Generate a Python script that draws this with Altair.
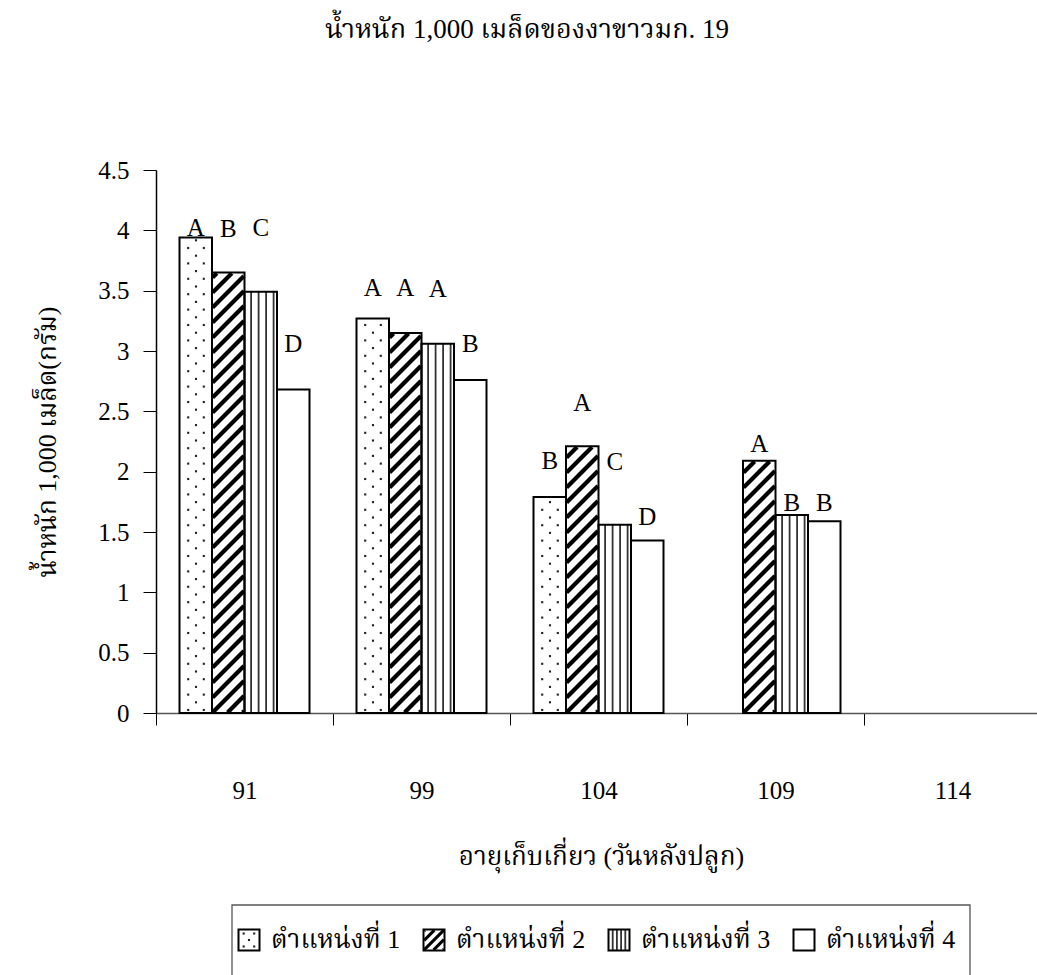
import altair as alt
import pandas as pd

# ---------------- data ----------------
days = ["91", "99", "104", "109", "114"]
positions = ["ตำแหน่งที่ 1", "ตำแหน่งที่ 2", "ตำแหน่งที่ 3", "ตำแหน่งที่ 4"]

weight_pos1 = [3.94, 3.27, 1.79, None, None]
weight_pos2 = [3.65, 3.15, 2.21, 2.09, None]
weight_pos3 = [3.49, 3.06, 1.56, 1.64, None]
weight_pos4 = [2.68, 2.76, 1.43, 1.59, None]

letters_pos1 = ["A", "A", "B", None, None]
letters_pos2 = ["B", "A", "A", "A", None]
letters_pos3 = ["C", "A", "C", "B", None]
letters_pos4 = ["D", "B", "D", "B", None]

TITLE = "น้ำหนัก 1,000 เมล็ดของงาขาวมก. 19"
Y_TITLE = "น้ำหนัก 1,000 เมล็ด(กรัม)"
X_TITLE = "อายุเก็บเกี่ยว (วันหลังปลูก)"

# ---------------- layout ----------------
W, H = 881, 543                 # plot area
PAD = {"left": 156, "top": 170, "right": 0, "bottom": 262}
Y_MAX = 4.5
PX_X = 177.0                    # pixels per category
PX_Y = H / Y_MAX                # pixels per gram
BAR_W = 32.5
FONT = "'Liberation Serif', 'Noto Serif Thai', 'Noto Sans Thai Looped', 'Noto Sans Thai', serif"

# pixel lift of each significance letter above its bar
LETTER_LIFT = [
    [10, 30, 36, None, None],
    [44, 45, 43, 17, None],
    [64, 55, 63, 12, None],
    [46, 36, 23, 18, None],
]

# legend key centres (screen px) and box
LEG_KEY_X = [249, 434, 619, 804]
LEG_Y = 940
LEG_KEY = 21
LEG_BOX = (232, 970, 905, 985)

series_values = [weight_pos1, weight_pos2, weight_pos3, weight_pos4]
series_letters = [letters_pos1, letters_pos2, letters_pos3, letters_pos4]


def gx(px):
    return px / PX_X


def gy(u):
    return u / PX_Y


rects, dots, hatch_thick, hatch_thin, vlines, letters = [], [], [], [], [], []


def add_dots(x0, u0, w, h, hp, vp, first_u, even_off, odd_off):
    r, u = 0, first_u
    while u < h - 1.5:
        x = even_off if r % 2 == 0 else odd_off
        while x < w - 1.5:
            if x > 1.5:
                dots.append({"x": gx(x0 + x), "y": gy(u0 + u)})
            x += hp
        u += vp
        r += 1


def add_hatch(store, x0, u0, w, h, period, inset=0.6):
    # 45-degree centre lines u = t + x, clipped to the rectangle
    k = int((-w) // period) - 1
    while True:
        t = k * period
        if t >= h:
            break
        xa = max(0.0, -t) + inset
        xb = min(w, h - t) - inset
        if xb > xa:
            store.append({"x": gx(x0 + xa), "x2": gx(x0 + xb),
                          "y": gy(u0 + t + xa), "y2": gy(u0 + t + xb)})
        k += 1


def add_vlines(x0, u0, h, offsets):
    for off in offsets:
        vlines.append({"x": gx(x0 + off), "y": gy(u0), "y2": gy(u0 + h)})


def add_key(j, x0, u0, w, h, legend):
    rects.append({"x": gx(x0), "x2": gx(x0 + w), "y": gy(u0), "y2": gy(u0 + h)})
    if j == 0:
        if legend:
            add_dots(x0, u0, w, h, 10.5, 6.5, 4, 5.2, 0)
        else:
            add_dots(x0, u0, w, h, 15.6, 7.7, 3, 8.7, 0.9)
    elif j == 1:
        if legend:
            add_hatch(hatch_thin, x0, u0, w, h, 9.5)
        else:
            add_hatch(hatch_thick, x0, u0, w, h, 15.0)
    elif j == 2:
        if legend:
            add_vlines(x0, u0, h, [4.2, 8.4, 12.6, 16.8])
        else:
            add_vlines(x0, u0, h, [6.6, 14.1, 21.6, 29.1])


# bars
for j, vals in enumerate(series_values):
    for i, v in enumerate(vals):
        if v is None:
            continue
        left = (i + 0.5) * PX_X - 2 * BAR_W + j * BAR_W
        add_key(j, left, 0.0, BAR_W, v * PX_Y, False)
        rects[-1]["y2"] = v
        txt = series_letters[j][i]
        if txt:
            letters.append({"x": gx(left + BAR_W / 2),
                            "y": v + LETTER_LIFT[j][i] / PX_Y, "t": txt})

# legend keys
legend_text = []
base_u = PAD["top"] + H
for j, cx in enumerate(LEG_KEY_X):
    x0 = cx - PAD["left"] - LEG_KEY / 2
    u0 = base_u - LEG_Y - LEG_KEY / 2
    add_key(j, x0, u0, LEG_KEY, LEG_KEY, True)
    legend_text.append({"x": gx(cx - PAD["left"] + 22), "y": gy(base_u - LEG_Y),
                        "t": positions[j]})

bx0, bx1, by0, by1 = LEG_BOX
legend_box = pd.DataFrame([{"x": gx(bx0 - PAD["left"]), "x2": gx(bx1 - PAD["left"]),
                            "y": gy(base_u - by0), "y2": gy(base_u - by1)}])

XS = alt.Scale(domain=[0, W / PX_X], nice=False, zero=False)
YS = alt.Scale(domain=[0, Y_MAX], nice=False, zero=False)

label_list = "[" + ",".join(f"'{d}'" for d in days) + "]"

x_axis = alt.Axis(
    values=[0, 1, 2, 3, 4], labelExpr=f"{label_list}[datum.value]",
    labelOffset=PX_X / 2, labelPadding=65, labelBaseline="middle",
    labelFontSize=25, labelFont=FONT, labelColor="black",
    labelOverlap=False, labelBound=False, labelFlush=False,
    tickSize=12, tickColor="black", tickWidth=1,
    domainColor="#555", domainWidth=1.5,
    title=X_TITLE, titleFont=FONT, titleFontSize=26, titleFontWeight="normal",
    titleColor="black", titleX=445, titleY=143, titleBaseline="middle", titleAlign="center",
    grid=False,
)
y_axis = alt.Axis(
    values=[0, 0.5, 1, 1.5, 2, 2.5, 3, 3.5, 4, 4.5], labelExpr="'' + datum.value",
    labelFontSize=25, labelFont=FONT, labelColor="black", labelPadding=14,
    labelOverlap=False, labelBound=False, labelFlush=False,
    tickSize=13, tickColor="black", tickWidth=1,
    domainColor="black", domainWidth=1.5,
    title=Y_TITLE, titleFont=FONT, titleFontSize=26, titleFontWeight="normal",
    titleColor="black", titleAngle=270, titleX=-109, titleY=H / 2,
    titleBaseline="middle", titleAlign="center",
    grid=False,
)

XS_ENC = dict(scale=XS, axis=x_axis)
YS_ENC = dict(scale=YS, axis=y_axis)


def X(f):
    return alt.X(f, type="quantitative", **XS_ENC)


def Y(f):
    return alt.Y(f, type="quantitative", **YS_ENC)


rect_df = pd.DataFrame(rects)

fills = alt.Chart(rect_df).mark_rect(fill="white", strokeWidth=0).encode(
    x=X("x"), x2="x2:Q", y=Y("y"), y2="y2:Q"
)

dot_layer = alt.Chart(pd.DataFrame(dots)).mark_square(size=4.5, color="#222", opacity=1).encode(
    x=X("x"), y=Y("y")
)

hatch_layer = alt.Chart(pd.DataFrame(hatch_thick)).mark_rule(
    color="black", strokeWidth=4.2, strokeCap="butt"
).encode(x=X("x"), x2="x2:Q", y=Y("y"), y2="y2:Q")

hatch_key_layer = alt.Chart(pd.DataFrame(hatch_thin)).mark_rule(
    color="black", strokeWidth=3.0, strokeCap="butt"
).encode(x=X("x"), x2="x2:Q", y=Y("y"), y2="y2:Q")

vline_layer = alt.Chart(pd.DataFrame(vlines)).mark_rule(color="#333", strokeWidth=1.8).encode(
    x=X("x"), y=Y("y"), y2="y2:Q"
)

outlines = alt.Chart(rect_df).mark_rect(fillOpacity=0, stroke="black", strokeWidth=2).encode(
    x=X("x"), x2="x2:Q", y=Y("y"), y2="y2:Q"
)

letter_layer = alt.Chart(pd.DataFrame(letters)).mark_text(
    font=FONT, fontSize=25, color="black", baseline="middle", align="center"
).encode(x=X("x"), y=Y("y"), text="t:N")

box_layer = alt.Chart(legend_box).mark_rect(fillOpacity=0, stroke="#555", strokeWidth=1.3).encode(
    x=X("x"), x2="x2:Q", y=Y("y"), y2="y2:Q"
)

legend_label_layer = alt.Chart(pd.DataFrame(legend_text)).mark_text(
    font=FONT, fontSize=26, color="black", baseline="middle", align="left"
).encode(x=X("x"), y=Y("y"), text="t:N")

# chart heading, centred over the page, baseline 38 px from the top
title_layer = alt.Chart(pd.DataFrame([{"t": TITLE}])).mark_text(
    font=FONT, fontSize=27, color="black", baseline="alphabetic", align="center"
).encode(x=alt.value(527 - PAD["left"]), y=alt.value(38 - PAD["top"]), text="t:N")

chart = alt.layer(
    fills, dot_layer, hatch_layer, hatch_key_layer, vline_layer, outlines,
    letter_layer, box_layer, legend_label_layer, title_layer,
).properties(
    width=W, height=H,
    padding=PAD,
    autosize=alt.AutoSizeParams(type="none"),
    background="white",
).configure_view(stroke=None)

chart.save("out.html", embed_options={"renderer": "svg", "actions": False})
